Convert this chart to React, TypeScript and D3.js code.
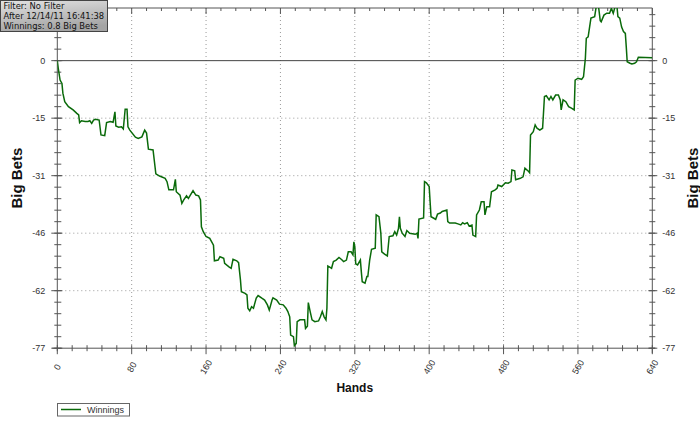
import React, { useEffect, useRef } from "react";
import * as d3 from "d3";

const hands = [0,1,3,5,6,8,12,17,21,23,24,26,30,33,35,37,39,41,45,47,51,53,57,60,62,63,66,69,71,73,75,76,78,84,87,91,94,96,98,103,106,110,116,118,120,125,127,128,132,134,136,139,141,146,149,152,154,155,157,160,164,168,169,173,175,179,180,185,187,189,193,195,197,198,202,204,205,207,209,211,214,216,220,223,226,228,231,232,236,239,243,246,248,250,251,254,255,257,258,261,266,267,269,270,272,274,277,281,283,285,287,289,290,291,293,295,297,300,303,306,308,311,313,316,318,319,320,321,323,326,327,328,331,333,334,336,338,342,343,346,348,349,352,355,357,361,363,365,367,368,369,371,374,376,379,385,387,388,389,394,395,397,400,402,405,407,409,412,414,419,420,422,428,431,434,436,438,441,443,446,447,450,451,454,456,459,460,462,465,467,471,473,474,478,482,485,488,489,492,493,498,501,503,507,508,509,512,514,516,519,522,524,526,529,531,533,536,539,541,542,544,547,550,553,556,557,560,564,566,568,569,571,574,578,580,582,584,585,588,591,594,596,598,600,602,603,605,607,609,611,612,613,616,618,621,623,625,640];
const bigBets = [0,-2.0,-5.2,-6.1,-8.7,-11.0,-12.3,-13.2,-14.1,-14.5,-16.6,-16.1,-16.3,-16.3,-16.1,-16.8,-15.9,-15.7,-15.9,-19.9,-20.1,-16.6,-16.3,-16.5,-13.7,-17.5,-17.8,-17.7,-18.3,-13.0,-13.0,-17.7,-18.6,-20.5,-20.8,-20.4,-18.6,-19.4,-23.7,-23.9,-30.3,-30.9,-31.5,-32.4,-34.6,-34.6,-31.8,-35.1,-36.0,-38.2,-37.3,-36.2,-36.9,-34.8,-36.0,-36.2,-37.3,-44.5,-45.8,-47.1,-47.6,-49.4,-53.6,-53.4,-52.5,-52.9,-54.3,-55.3,-55.6,-53.2,-53.6,-54.1,-58.7,-61.9,-62.3,-62.7,-66.3,-67.0,-65.9,-66.3,-63.6,-62.9,-63.6,-64.1,-65.4,-66.8,-64.1,-63.5,-64.1,-65.2,-65.4,-66.3,-67.2,-68.6,-73.5,-73.9,-76.3,-75.7,-69.9,-69.4,-69.4,-71.7,-71.1,-64.8,-67.2,-69.4,-69.9,-69.7,-68.6,-67.2,-68.6,-69.4,-66.3,-55.0,-55.3,-55.6,-53.8,-53.4,-52.7,-53.3,-53.8,-53.4,-51.2,-51.2,-52.0,-48.5,-49.8,-54.4,-54.7,-53.4,-56.5,-59.2,-59.6,-57.8,-57.8,-53.4,-50.5,-50.2,-41.3,-41.8,-46.2,-51.2,-51.8,-52.3,-47.1,-46.9,-45.8,-46.7,-44.9,-41.8,-44.9,-46.2,-47.1,-45.5,-46.2,-46.5,-46.2,-47.6,-42.4,-42.1,-32.4,-32.7,-33.7,-41.8,-42.2,-42.5,-41.1,-40.8,-40.4,-40.0,-43.1,-43.5,-43.5,-43.7,-44.0,-43.4,-43.7,-43.4,-44.3,-44.0,-46.7,-47.1,-41.3,-40.0,-37.8,-37.8,-41.3,-39.1,-39.1,-35.1,-34.6,-34.2,-33.3,-33.7,-32.7,-32.8,-32.4,-29.3,-29.5,-31.9,-31.5,-31.1,-28.8,-29.7,-30.0,-19.9,-19.0,-17.2,-18.1,-18.6,-18.1,-9.6,-9.4,-10.5,-9.6,-10.5,-9.2,-9.2,-10.5,-13.2,-10.5,-11.0,-12.3,-12.7,-13.2,-5.2,-4.7,-5.0,-4.3,0.6,6.0,6.4,11.4,11.8,15.0,14.8,10.7,10.4,12.2,12.7,12.7,14.0,12.7,14.5,14.5,11.8,11.4,9.0,7.8,7.3,3.7,-0.3,-0.7,-0.9,-0.7,-0.3,0.9,0.8];

const xMajorTicks = [0, 80, 160, 240, 320, 400, 480, 560, 640];
const yMajorTicks = [0, -15.4, -30.8, -46.2, -61.6, -77];
const infoLines = ["Filter: No Filter", "After 12/14/11 16:41:38", "Winnings: 0.8 Big Bets"];
const seriesName = "Winnings";

const W = 700, H = 421;
const L = 57.3, R = 652.3, T = 8, B = 348.2;

export default function App() {
  const ref = useRef<SVGSVGElement>(null);
  useEffect(() => {
    const svg = d3.select(ref.current);
    svg.selectAll("*").remove();
    const x = d3.scaleLinear().domain([0, 640]).range([L, R]);
    const y = d3.scaleLinear().domain([-77, 14.1]).range([B, T]);
    const font = "'Liberation Sans', Arial, sans-serif";
    const infoFont = "'DejaVu Sans', Verdana, sans-serif";
    const axisColor = "#555";

    const defs = svg.append("defs");
    defs.append("clipPath").attr("id", "plotclip").append("rect")
      .attr("x", L).attr("y", T).attr("width", R - L).attr("height", B - T);
    const grad = defs.append("linearGradient").attr("id", "infograd")
      .attr("x1", 0).attr("y1", 0).attr("x2", 0.3).attr("y2", 1);
    grad.append("stop").attr("offset", "0%").attr("stop-color", "#e2e2e2");
    grad.append("stop").attr("offset", "100%").attr("stop-color", "#a4a4a4");

    // grid
    const g = svg.append("g");
    xMajorTicks.slice(1, -1).forEach(t => {
      g.append("line").attr("x1", x(t)).attr("x2", x(t)).attr("y1", T).attr("y2", B)
        .attr("stroke", "#9a9a9a").attr("stroke-dasharray", "1,3");
    });
    yMajorTicks.slice(1, -1).forEach(t => {
      g.append("line").attr("x1", L).attr("x2", R).attr("y1", y(t)).attr("y2", y(t))
        .attr("stroke", "#9a9a9a").attr("stroke-dasharray", "1,3");
    });
    // zero line
    g.append("line").attr("x1", L).attr("x2", R).attr("y1", y(0)).attr("y2", y(0))
      .attr("stroke", "#444").attr("stroke-width", 1);

    // frame lines
    g.append("line").attr("x1", L).attr("x2", R).attr("y1", T).attr("y2", T).attr("stroke", axisColor);
    g.append("line").attr("x1", L - 5).attr("x2", R + 3).attr("y1", B).attr("y2", B).attr("stroke", axisColor);
    g.append("line").attr("x1", L).attr("x2", L).attr("y1", T).attr("y2", B + 3).attr("stroke", axisColor);
    g.append("line").attr("x1", R).attr("x2", R).attr("y1", T).attr("y2", B + 5).attr("stroke", axisColor);

    // x ticks (bottom and top)
    const xMinor = d3.range(0, 641, 16);
    xMinor.forEach(t => {
      const major = t % 80 === 0;
      g.append("line").attr("x1", x(t)).attr("x2", x(t))
        .attr("y1", B - 3).attr("y2", B + (major ? 6 : 3)).attr("stroke", axisColor);
      g.append("line").attr("x1", x(t)).attr("x2", x(t))
        .attr("y1", T).attr("y2", T + (major ? 6 : 3)).attr("stroke", axisColor);
    });
    // y ticks (left and right)
    const yMinor = d3.range(-77, 14.1, 3.08);
    yMinor.forEach(t => {
      g.append("line").attr("x1", L - 3).attr("x2", L + 4).attr("y1", y(t)).attr("y2", y(t)).attr("stroke", axisColor);
      g.append("line").attr("x1", R - 3).attr("x2", R + 3).attr("y1", y(t)).attr("y2", y(t)).attr("stroke", axisColor);
    });
    yMajorTicks.forEach(t => {
      g.append("line").attr("x1", L - 6).attr("x2", L + 5).attr("y1", y(t)).attr("y2", y(t)).attr("stroke", axisColor);
      g.append("line").attr("x1", R - 4).attr("x2", R + 5).attr("y1", y(t)).attr("y2", y(t)).attr("stroke", axisColor);
      g.append("text").attr("x", L - 12).attr("y", y(t)).attr("dy", "0.35em")
        .attr("text-anchor", "end").attr("font-family", font).attr("font-size", 9)
        .attr("fill", "#333").text(String(Math.round(t)));
      g.append("text").attr("x", R + 10).attr("y", y(t)).attr("dy", "0.35em")
        .attr("text-anchor", "start").attr("font-family", font).attr("font-size", 9)
        .attr("fill", "#333").text(String(Math.round(t)));
    });
    xMajorTicks.forEach(t => {
      g.append("text").attr("transform", `translate(${x(t)},367) rotate(-60)`)
        .attr("text-anchor", "middle").attr("dy", "0.35em")
        .attr("font-family", font).attr("font-size", 9).attr("fill", "#333").text(String(t));
    });

    // axis titles
    g.append("text").attr("transform", `translate(22,${(T + B) / 2}) rotate(-90)`)
      .attr("text-anchor", "middle").attr("font-family", font).attr("font-weight", "bold")
      .attr("font-size", 15).attr("fill", "#111").text("Big Bets");
    g.append("text").attr("transform", `translate(698,${(T + B) / 2}) rotate(-90)`)
      .attr("text-anchor", "middle").attr("font-family", font).attr("font-weight", "bold")
      .attr("font-size", 15).attr("fill", "#111").text("Big Bets");
    g.append("text").attr("x", (L + R) / 2).attr("y", 392)
      .attr("text-anchor", "middle").attr("font-family", font).attr("font-weight", "bold")
      .attr("font-size", 12).attr("fill", "#111").text("Hands");

    // line
    const data = hands.map((h, i) => [h, bigBets[i]] as [number, number]);
    const line = d3.line<[number, number]>().x(d => x(d[0])).y(d => y(d[1])).curve(d3.curveLinear);
    svg.append("path").datum(data).attr("clip-path", "url(#plotclip)")
      .attr("d", line).attr("fill", "none").attr("stroke", "#0a6a0a").attr("stroke-width", 1.5)
      .attr("stroke-linejoin", "miter");

    // info box
    const info = svg.append("g");
    info.append("rect").attr("x", 0.5).attr("y", 0.5).attr("width", 107).attr("height", 31)
      .attr("fill", "url(#infograd)").attr("stroke", "#444");
    infoLines.forEach((s, i) => {
      info.append("text").attr("x", 3.5).attr("y", 9.3 + i * 9.6)
        .attr("font-family", infoFont).attr("font-size", 8.4).attr("fill", "#111").text(s);
    });

    // legend
    const lg = svg.append("g");
    lg.append("rect").attr("x", 57.5).attr("y", 403.5).attr("width", 72).attr("height", 12.5)
      .attr("fill", "#fff").attr("stroke", "#666");
    lg.append("line").attr("x1", 61).attr("x2", 81).attr("y1", 409.5).attr("y2", 409.5)
      .attr("stroke", "#0a6a0a").attr("stroke-width", 1.5);
    lg.append("text").attr("x", 87).attr("y", 409.8).attr("dy", "0.35em")
      .attr("font-family", font).attr("font-size", 9).attr("fill", "#333").text(seriesName);
  }, []);
  return (
    <svg ref={ref} width={W} height={H}
      style={{ position: "absolute", left: 0, top: 0, display: "block", background: "#fff" }} />
  );
}
